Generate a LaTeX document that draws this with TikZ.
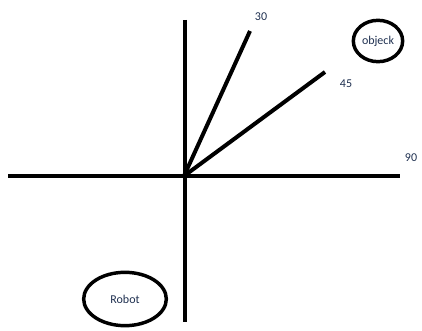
\documentclass[tikz,border=0pt]{standalone}
\usepackage{fontspec}
\setmainfont{Carlito}
\usetikzlibrary{shapes.geometric}
\definecolor{txt}{HTML}{1F3050}
\tikzset{
  axis/.style={line width=3pt},
  ray/.style={line width=3pt},
  lbl/.style={text=txt, font=\fontsize{9}{10}\selectfont, inner sep=0pt},
  blob/.style={ellipse, draw, line width=2.6pt, text=txt, font=\fontsize{9}{10}\selectfont, inner sep=0pt}
}
\begin{document}
\begin{tikzpicture}[x=0.75pt,y=-0.75pt]
\useasboundingbox (0,0) rectangle (422,331);
\coordinate (O) at (184,176);
\coordinate (top) at (185,20);
\coordinate (bot) at (185,322);
\coordinate (left) at (8,176);
\coordinate (right) at (400,176);
\coordinate (r30) at (250,31);
\coordinate (r45) at (325,72);
\draw[axis] (top) -- (bot);
\draw[axis] (left) -- (right);
\draw[ray] (O) -- (r30);
\draw[ray] (O) -- (r45);
\node[lbl] (l30) at (261,17) {30};
\node[lbl] (l45) at (346,84) {45};
\node[lbl] (l90) at (411,158) {90};
\node[blob, minimum width=37pt, minimum height=31pt] (obj) at (378,41) {objeck};
\node[blob, minimum width=62pt, minimum height=40pt] (rob) at (125,299) {Robot};
\end{tikzpicture}
\end{document}
